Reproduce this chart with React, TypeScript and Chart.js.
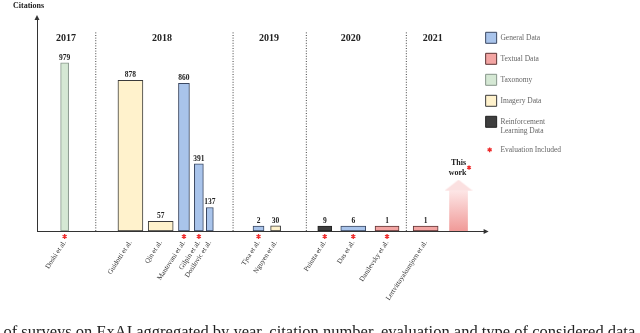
import React, { useEffect, useRef } from "react";
import { Chart, registerables } from "chart.js";

Chart.register(...registerables);

// ---------------- data ----------------
const papers = [
  "Doshi et al.",
  "Guidotti et al.",
  "Qin et al.",
  "Mantovani et al.",
  "Gilpin et al.",
  "Dosilovic et al.",
  "Tjoa et al.",
  "Nguyen et al.",
  "Puiutta et al.",
  "Das et al.",
  "Danilevsky et al.",
  "Lertvittayakumjorn et al.",
];
const years = [2017, 2018, 2018, 2018, 2018, 2018, 2019, 2019, 2020, 2020, 2020, 2021];
const citations = [979, 878, 57, 860, 391, 137, 2, 30, 9, 6, 1, 1];
const dataTypes = [
  "Taxonomy",
  "Imagery Data",
  "Imagery Data",
  "General Data",
  "General Data",
  "General Data",
  "General Data",
  "Imagery Data",
  "Reinforcement Learning Data",
  "General Data",
  "Textual Data",
  "Textual Data",
];
const evaluated = [true, false, false, true, true, false, true, false, true, true, true, false];
const yearLabels = ["2017", "2018", "2019", "2020", "2021"];
const legendTypes = ["General Data", "Textual Data", "Taxonomy", "Imagery Data", "Reinforcement Learning Data"];
const evaluationLabel = "Evaluation Included";
const thisWorkLabel = ["This", "work"];
const thisWorkReach = 235; // schematic height of the "This work" arrow
const yAxisTitle = "Citations";
const caption = "n of surveys on ExAI aggregated by year, citation number, evaluation and type of considered data";

// ---------------- layout (timeline axis units, 0..100) ----------------
const paperX = [6.3, 21.3, 28.2, 33.5, 36.9, 39.4, 50.5, 54.4, 65.6, 72.1, 79.8, 88.6];
const thisWorkX = 96.1;
const yearX = [6.6, 28.5, 52.9, 71.5, 90.2];
const dividerX = [13.4, 44.7, 61.4, 84.2];
const barWidths = [8, 25, 25, 11, 9, 7, 11, 10, 14, 25, 24, 25];
const Y_MAX = 1240;
const DIVIDER_TOP = 1160;
const YEAR_LABEL_LEVEL = 1120;

const SERIF = "'Liberation Serif', 'DejaVu Serif', serif";

const typeStyle: Record<string, { fill: string; border: string }> = {
  "General Data": { fill: "#a9c4eb", border: "#3b4862" },
  "Textual Data": { fill: "#f3a5a3", border: "#5e3434" },
  Taxonomy: { fill: "#d5e8d4", border: "#86958a" },
  "Imagery Data": { fill: "#fff2cc", border: "#3a3a3a" },
  "Reinforcement Learning Data": { fill: "#3e3e3e", border: "#222222" },
};

function drawAsterisk(ctx: CanvasRenderingContext2D, cx: number, cy: number, r: number) {
  ctx.save();
  ctx.strokeStyle = "#ee2b2b";
  ctx.lineWidth = 1.3;
  ctx.beginPath();
  for (let k = 0; k < 3; k++) {
    const a = (Math.PI / 3) * k + Math.PI / 2;
    ctx.moveTo(cx + Math.cos(a) * r, cy + Math.sin(a) * r);
    ctx.lineTo(cx - Math.cos(a) * r, cy - Math.sin(a) * r);
  }
  ctx.stroke();
  ctx.restore();
}

const annotatePlugin = {
  id: "annotate",
  afterDatasetsDraw(chart: any) {
    const { ctx, chartArea } = chart;
    const x = chart.scales.x;
    const y = chart.scales.y;
    ctx.save();
    // citation values above bars
    ctx.font = `bold 7.5px ${SERIF}`;
    ctx.fillStyle = "#222";
    ctx.textAlign = "center";
    ctx.textBaseline = "bottom";
    papers.forEach((_, i) => {
      const el = chart.getDatasetMeta(i).data[0];
      ctx.fillText(String(citations[i]), el.x, el.y - 1.5);
    });
    // evaluation markers below the axis
    papers.forEach((_, i) => {
      if (!evaluated[i]) return;
      const el = chart.getDatasetMeta(i).data[0];
      drawAsterisk(ctx, el.x, chartArea.bottom + 5.5, 2.4);
    });
    // year headings
    ctx.font = `bold 10px ${SERIF}`;
    ctx.textBaseline = "middle";
    ctx.fillStyle = "#222";
    yearLabels.forEach((t, i) => {
      ctx.fillText(t, x.getPixelForValue(yearX[i]), y.getPixelForValue(YEAR_LABEL_LEVEL));
    });
    // "This work" label
    const tw = chart.getDatasetMeta(papers.length).data[0];
    const tipY = tw.y - 11;
    ctx.font = `bold 8px ${SERIF}`;
    ctx.fillText(thisWorkLabel[0], tw.x, tipY - 17);
    ctx.fillText(thisWorkLabel[1], tw.x - 1, tipY - 6.5);
    drawAsterisk(ctx, tw.x + 10.5, tipY - 12, 2.2);
    // axis arrows
    ctx.strokeStyle = "#333";
    ctx.fillStyle = "#333";
    ctx.lineWidth = 1;
    const axisY = chartArea.bottom;
    const endX = chartArea.right + 13;
    ctx.beginPath();
    ctx.moveTo(chartArea.right, axisY + 0.5);
    ctx.lineTo(endX - 3, axisY + 0.5);
    ctx.stroke();
    ctx.beginPath();
    ctx.moveTo(endX, axisY + 0.5);
    ctx.lineTo(endX - 5, axisY - 2);
    ctx.lineTo(endX - 5, axisY + 3);
    ctx.closePath();
    ctx.fill();
    const ax = chartArea.left;
    ctx.beginPath();
    ctx.moveTo(ax, chartArea.top - 3);
    ctx.lineTo(ax - 2.5, chartArea.top + 2);
    ctx.lineTo(ax + 2.5, chartArea.top + 2);
    ctx.closePath();
    ctx.fill();
    ctx.restore();
  },
  afterDraw(chart: any) {
    const legend = chart.legend;
    if (!legend || !legend.legendHitBoxes) return;
    const hb = legend.legendHitBoxes[legendTypes.length];
    if (!hb) return;
    drawAsterisk(chart.ctx, hb.left + 4, hb.top + 5.5, 2.4);
  },
};

export default function App() {
  const canvasRef = useRef<HTMLCanvasElement | null>(null);

  useEffect(() => {
    const canvas = canvasRef.current;
    if (!canvas) return;

    // arrow head image (triangle in the upper half so its base sits at the point)
    const head = document.createElement("canvas");
    head.width = 28;
    head.height = 22;
    const hctx = head.getContext("2d")!;
    hctx.fillStyle = "#fbe0e0";
    hctx.beginPath();
    hctx.moveTo(0, 11);
    hctx.lineTo(14, 0);
    hctx.lineTo(28, 11);
    hctx.closePath();
    hctx.fill();

    const paperSets = papers.map((p, i) => ({
      type: "bar" as const,
      label: p,
      data: [{ x: paperX[i], y: citations[i] }],
      backgroundColor: typeStyle[dataTypes[i]].fill,
      borderColor: typeStyle[dataTypes[i]].border,
      borderWidth: 1,
      borderSkipped: false,
      barThickness: barWidths[i],
      minBarLength: 5,
      grouped: false,
      order: 2,
    }));

    const thisWorkSet = {
      type: "bar" as const,
      label: "This work",
      data: [{ x: thisWorkX, y: thisWorkReach }],
      backgroundColor: (c: any) => {
        const ch = c.chart;
        const area = ch.chartArea;
        if (!area) return "#f3b0ae";
        const yScale = ch.scales.y;
        const g = ch.ctx.createLinearGradient(0, yScale.getPixelForValue(0), 0, yScale.getPixelForValue(thisWorkReach));
        g.addColorStop(0, "#f09a98");
        g.addColorStop(1, "#fde6e6");
        return g;
      },
      borderWidth: 0,
      barThickness: 18,
      grouped: false,
      order: 2,
    };

    const headSet = {
      type: "scatter" as const,
      label: "This work head",
      data: [{ x: thisWorkX, y: thisWorkReach }],
      pointStyle: head,
      pointRadius: 10,
      order: 1,
    };

    const dividerSets = dividerX.map((d) => ({
      type: "line" as const,
      label: "divider",
      data: [
        { x: d, y: 0 },
        { x: d, y: DIVIDER_TOP },
      ],
      borderColor: "#444",
      borderWidth: 1,
      borderDash: [1, 1.6],
      pointRadius: 0,
      order: 3,
    }));

    const chart = new Chart(canvas, {
      type: "bar",
      data: { datasets: [...paperSets, thisWorkSet, headSet, ...dividerSets] as any },
      options: {
        responsive: false,
        animation: false,
        events: [],
        layout: { padding: { left: 13, right: 69, top: 0, bottom: 0 } },
        scales: {
          x: {
            type: "linear",
            min: 0,
            max: 100,
            offset: false,
            grid: { display: false, drawTicks: false },
            border: { display: true, color: "#333", width: 1 },
            afterBuildTicks: (s: any) => {
              s.ticks = paperX.map((v) => ({ value: v }));
            },
            afterFit: (s: any) => {
              s.height = 102;
            },
            ticks: {
              autoSkip: false,
              minRotation: 57,
              maxRotation: 57,
              padding: 8,
              color: "#333",
              font: { family: SERIF, size: 7 },
              callback: (_v: any, i: number) => papers[i],
            },
          },
          y: {
            min: 0,
            max: Y_MAX,
            grid: { display: false, drawTicks: false },
            ticks: { display: false },
            border: { display: true, color: "#333", width: 1 },
            afterFit: (s: any) => {
              s.width = 24;
            },
          },
        },
        plugins: {
          tooltip: { enabled: false },
          title: {
            display: true,
            text: yAxisTitle,
            align: "start",
            color: "#222",
            font: { family: SERIF, size: 8, weight: "bold" },
            padding: { top: 1.5, bottom: 7 },
          },
          legend: {
            position: "right",
            align: "start",
            fullSize: false,
            onClick: () => {},
            title: { display: true, text: "", padding: { top: 0, bottom: 3 }, font: { size: 1 } },
            labels: {
              boxWidth: 11,
              boxHeight: 11,
              padding: 10,
              color: "#444",
              font: { family: SERIF, size: 7.5 },
              generateLabels: () => [
                ...legendTypes.map((t) => ({
                  text: t === "Reinforcement Learning Data" ? ["Reinforcement", "Learning Data"] : t,
                  fillStyle: typeStyle[t].fill,
                  strokeStyle: typeStyle[t].border,
                  lineWidth: 1,
                  hidden: false,
                })),
                {
                  text: evaluationLabel,
                  fillStyle: "rgba(0,0,0,0)",
                  strokeStyle: "rgba(0,0,0,0)",
                  lineWidth: 0,
                  hidden: false,
                },
              ] as any,
            },
          },
        },
      },
      plugins: [annotatePlugin],
    });

    return () => chart.destroy();
  }, []);

  return (
    <div
      style={{
        position: "fixed",
        left: 0,
        top: 0,
        width: 640,
        height: 333,
        overflow: "hidden",
        background: "#fff",
      }}
    >
      <canvas ref={canvasRef} width={640} height={333} style={{ display: "block" }} />
      <div
        style={{
          position: "absolute",
          left: -9,
          top: 324,
          fontFamily: SERIF,
          fontSize: 16.5,
          color: "#222",
          whiteSpace: "nowrap",
          lineHeight: "16.5px",
        }}
      >
        {caption}
      </div>
    </div>
  );
}
